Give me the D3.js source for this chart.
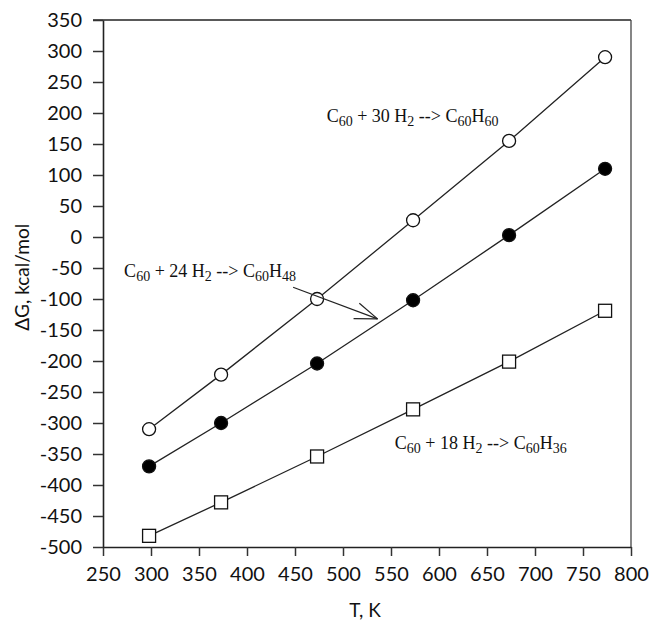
<!DOCTYPE html>
<html>
<head>
<meta charset="utf-8">
<script src="https://cdn.jsdelivr.net/npm/d3@7"></script>
<style>
  body { margin: 0; background: #fff; }
  svg { display: block; }
  .tick text { font-family: Lato, "Open Sans", sans-serif; font-size: 20px; fill: #111; }
  .lbl { font-family: "Liberation Serif", "Times New Roman", serif; font-size: 18px; fill: #111; }
</style>
</head>
<body>
<svg id="chart"></svg>
<script>
// temperatures, K
var temps = [298, 373, 473, 573, 673, 773];
// dG, kcal/mol
var dgH60 = [-310, -222, -100, 27, 155, 290];
var dgH48 = [-370, -300, -204, -102, 3, 110];
var dgH36 = [-482, -428, -354, -278, -201, -119];

var xTicks = [250, 300, 350, 400, 450, 500, 550, 600, 650, 700, 750, 800];
var yTicks = [350, 300, 250, 200, 150, 100, 50, 0, -50, -100, -150, -200, -250, -300, -350, -400, -450, -500];

// reaction labels (data coords): [number of H2, product H count, T, dG]
var reactions = [
    ["30", "60", 483, 186],
    ["24", "48", 272, -65],
    ["18", "36", 554, -342]
];
var arrowFrom = [448, -81], arrowTo = [536, -132];

var width = 651,
    height = 620;
var margin = {top: 20, right: 20, bottom: 73, left: 103};

var svg = d3.select("#chart")
    .attr("width", width)
    .attr("height", height);

var x = d3.scaleLinear().domain([250, 800]).range([margin.left, width - margin.right]);
var y = d3.scaleLinear().domain([-500, 350]).range([height - margin.bottom, margin.top]);

// box: top and right
svg.append("line")
    .attr("x1", margin.left - 10).attr("x2", x(800))
    .attr("y1", y(350)).attr("y2", y(350))
    .attr("stroke", "#222").attr("stroke-width", 1.6);
svg.append("line")
    .attr("x1", x(800)).attr("x2", x(800))
    .attr("y1", y(350)).attr("y2", y(-500))
    .attr("stroke", "#444").attr("stroke-width", 1.3);

var xAxis = svg.append("g")
    .attr("transform", "translate(0," + y(-500) + ")")
    .call(d3.axisBottom(x).tickValues(xTicks).tickSize(9).tickPadding(11).tickSizeOuter(0));
var yAxis = svg.append("g")
    .attr("transform", "translate(" + x(250) + ",0)")
    .call(d3.axisLeft(y).tickValues(yTicks).tickSize(10).tickPadding(11).tickSizeOuter(0)
        .tickFormat(function(d) { return d < 0 ? "-" + Math.abs(d) : d; }));
[xAxis, yAxis].forEach(function(g) {
    g.select(".domain").attr("stroke", "#222").attr("stroke-width", 1.6);
    g.selectAll(".tick line").attr("stroke", "#333").attr("stroke-width", 1.5);
});

// axis titles
svg.append("text")
    .attr("x", (x(250) + x(800)) / 2 - 2)
    .attr("y", 617)
    .attr("text-anchor", "middle")
    .style("font-family", "Lato, 'Open Sans', sans-serif")
    .style("font-size", "19px")
    .attr("fill", "#111")
    .text("T, K");
svg.append("text")
    .attr("transform", "translate(29," + y(-65) + ") rotate(-90)")
    .attr("text-anchor", "middle")
    .style("font-family", "Lato, 'Open Sans', sans-serif")
    .style("font-size", "19px")
    .attr("fill", "#111")
    .text("\u0394G, kcal/mol");

var lineGen = d3.line()
    .x(function(d) { return x(d[0]); })
    .y(function(d) { return y(d[1]); });

var series = [
    {vals: dgH60, shape: "circle", fill: "#fff"},
    {vals: dgH48, shape: "circle", fill: "#000"},
    {vals: dgH36, shape: "square", fill: "#fff"}
];

series.forEach(function(s) {
    var pts = temps.map(function(t, i) { return [t, s.vals[i]]; });
    svg.append("path")
        .attr("d", lineGen(pts))
        .attr("fill", "none")
        .attr("stroke", "#222")
        .attr("stroke-width", 1.3);
    if (s.shape == "circle") {
        svg.selectAll(null).data(pts).enter()
            .append("circle")
            .attr("cx", function(d) { return x(d[0]); })
            .attr("cy", function(d) { return y(d[1]); })
            .attr("r", 6.5)
            .attr("fill", s.fill)
            .attr("stroke", "#111")
            .attr("stroke-width", 1.3);
    } else {
        svg.selectAll(null).data(pts).enter()
            .append("rect")
            .attr("x", function(d) { return x(d[0]) - 6.5; })
            .attr("y", function(d) { return y(d[1]) - 6.5; })
            .attr("width", 13)
            .attr("height", 13)
            .attr("fill", s.fill)
            .attr("stroke", "#111")
            .attr("stroke-width", 1.3);
    }
});

// reaction labels, C60 + n H2 --> C60Hm
reactions.forEach(function(r) {
    var t = svg.append("text")
        .attr("class", "lbl")
        .attr("x", x(r[2]))
        .attr("y", y(r[3]));
    t.append("tspan").text("C");
    t.append("tspan").attr("dy", 4).style("font-size", "14px").text("60");
    t.append("tspan").attr("dy", -4).text(" + " + r[0] + " H");
    t.append("tspan").attr("dy", 4).style("font-size", "14px").text("2");
    t.append("tspan").attr("dy", -4).text(" --> C");
    t.append("tspan").attr("dy", 4).style("font-size", "14px").text("60");
    t.append("tspan").attr("dy", -4).text("H");
    t.append("tspan").attr("dy", 4).style("font-size", "14px").text(r[1]);
});

// arrow to the middle line
var ax1 = x(arrowFrom[0]), ay1 = y(arrowFrom[1]);
var ax2 = x(arrowTo[0]), ay2 = y(arrowTo[1]);
svg.append("line")
    .attr("x1", ax1).attr("y1", ay1)
    .attr("x2", ax2).attr("y2", ay2)
    .attr("stroke", "#222").attr("stroke-width", 1.2);
var ang = Math.atan2(ay2 - ay1, ax2 - ax1);
[0.35, -0.35].forEach(function(da) {
    svg.append("line")
        .attr("x1", ax2).attr("y1", ay2)
        .attr("x2", ax2 - 24 * Math.cos(ang + da))
        .attr("y2", ay2 - 24 * Math.sin(ang + da))
        .attr("stroke", "#222").attr("stroke-width", 1.2);
});
</script>
</body>
</html>
